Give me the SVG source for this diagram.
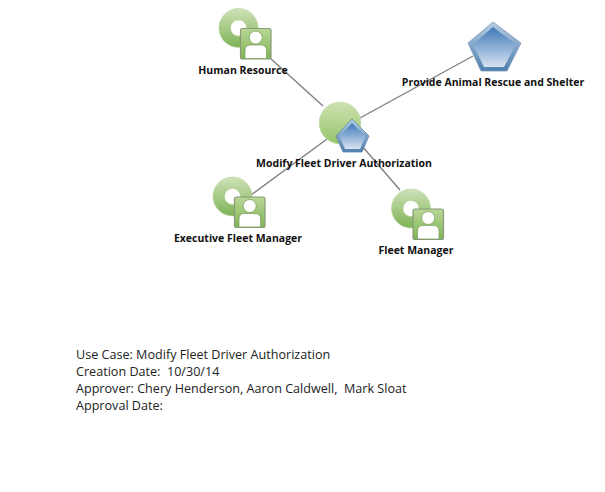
<svg xmlns="http://www.w3.org/2000/svg" xmlns:xlink="http://www.w3.org/1999/xlink" width="605" height="492" viewBox="0 0 605 492">
<style>
.lbl{font-family:"Open Sans","Noto Sans",sans-serif;font-weight:700;font-size:10.5px;fill:#111;text-anchor:middle}
.note{font-family:"Open Sans","Noto Sans",sans-serif;font-size:12.6px;fill:#222}
.conn{stroke:#808080;stroke-width:1.4;fill:none}
</style>
<defs>
<linearGradient id="g" x1="0" y1="0" x2="0" y2="1"><stop offset="0" stop-color="#cfe1b0"/><stop offset="1" stop-color="#97c46c"/></linearGradient>
<linearGradient id="gb" x1="0" y1="0" x2="0" y2="1"><stop offset="0" stop-color="#cfe2b8"/><stop offset="1" stop-color="#7db355"/></linearGradient>
<linearGradient id="gd" x1="0" y1="0" x2="0" y2="1"><stop offset="0" stop-color="#b9d796"/><stop offset="1" stop-color="#7fb556"/></linearGradient>
<linearGradient id="b" x1="0" y1="0" x2="0" y2="1"><stop offset="0" stop-color="#3f78b8"/><stop offset="1" stop-color="#d6e3f1"/></linearGradient>
<linearGradient id="bb" x1="0" y1="0" x2="0" y2="1"><stop offset="0" stop-color="#b6cde2"/><stop offset="1" stop-color="#4f7fae"/></linearGradient>
<g id="actor">
<path fill-rule="evenodd" d="M-36.500 -15.500a19.500 19.500 0 1 0 39 0a19.500 19.500 0 1 0 -39 0ZM-25 -15.500a8 8 0 1 0 16 0a8 8 0 1 0 -16 0Z" fill="url(#gb)" stroke="#b8d09c" stroke-width="0.6"/>
<rect x="-15" y="-15" width="30.500" height="30.500" rx="2" fill="url(#gd)" stroke="#8a9a78" stroke-width="1.200"/>
<circle cx="0.200" cy="-6" r="6.500" fill="#fff" stroke="#7a9a5c" stroke-width="0.700"/>
<path d="M-10.500 15V7Q-10.500 1.500 -5 1.500H5.500Q11 1.500 11 7V15Z" fill="#fff" stroke="#7a9a5c" stroke-width="0.700"/>
</g>
</defs>
<rect width="605" height="492" fill="#fff"/>
<g id="connectors">
<line class="conn" x1="270" y1="58" x2="323" y2="106"/>
<line class="conn" x1="473" y1="56" x2="360" y2="118"/>
<line class="conn" x1="327" y1="139" x2="251" y2="195"/>
<line class="conn" x1="362" y1="146" x2="400" y2="190"/>
</g>
<g id="node-human-resource"><use xlink:href="#actor" href="#actor" x="255.500" y="43.500"/><text class="lbl" x="243" y="74">Human Resource</text></g>
<g id="node-provide-animal"><path d="M493 22L521 43L507 71H481L468 43Z" fill="url(#bb)" stroke="#7d9cba" stroke-width="0.800"/><path d="M493 27L516 44.500L504 67H484L473 44.500Z" fill="url(#b)"/><text class="lbl" x="493" y="86">Provide Animal Rescue and Shelter</text></g>
<g id="node-modify"><circle cx="340" cy="123" r="20.800" fill="url(#g)" stroke="#c2d8a8" stroke-width="0.800"/><path d="M352 119L369 136L362 152H343L336 136Z" fill="url(#bb)" stroke="#5f88ad" stroke-width="0.800"/><path d="M352 123L365.500 136.500L360 149H345L339.500 136.500Z" fill="url(#b)"/><text class="lbl" x="344" y="167">Modify Fleet Driver Authorization</text></g>
<g id="node-exec"><use xlink:href="#actor" href="#actor" x="249.500" y="212"/><text class="lbl" x="238" y="242">Executive Fleet Manager</text></g>
<g id="node-fleet"><use xlink:href="#actor" href="#actor" x="428" y="224"/><text class="lbl" x="416" y="254">Fleet Manager</text></g>
<g id="note">
<text class="note" x="76" y="358.500">Use Case: Modify Fleet Driver Authorization</text>
<text class="note" x="76" y="375.500" xml:space="preserve">Creation Date:  10/30/14</text>
<text class="note" x="76" y="392.500" xml:space="preserve">Approver: Chery Henderson, Aaron Caldwell,  Mark Sloat</text>
<text class="note" x="76" y="409.500">Approval Date:</text>
</g>
</svg>
